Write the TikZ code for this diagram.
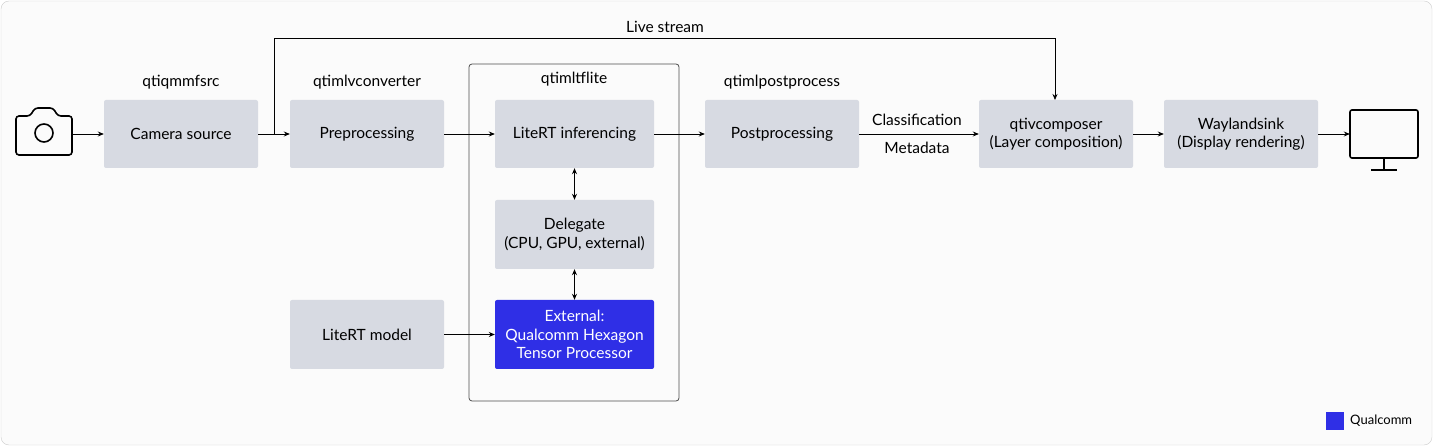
\documentclass[tikz,border=0pt]{standalone}
\usepackage{fontspec}
\setmainfont{Lato}
\usetikzlibrary{arrows.meta}
\definecolor{boxg}{HTML}{D7DAE2}
\definecolor{qblue}{HTML}{2F2FE6}
\begin{document}
\begin{tikzpicture}[x=1pt,y=-1pt,
  box/.style={fill=boxg,rounded corners=2pt,draw=none,align=center,font=\fontsize{15.5}{18.5}\selectfont,inner sep=0pt},
  lab/.style={font=\fontsize{15.5}{18.5}\selectfont,inner sep=0pt},
  arr/.style={-{Stealth[length=6pt,width=5pt]},line width=0.8pt}]
\useasboundingbox (0,0) rectangle (1433,446);
\draw[draw=gray!40,fill=gray!3,rounded corners=8pt] (1,1) rectangle (1432,445);
\draw[black!70,rounded corners=3pt,line width=0.8pt] (469,64) rectangle (679,401);
\node[lab] (tfl) at (574,79) {qtimltflite};
\node[box,minimum width=154pt,minimum height=68pt] (cam) at (181,134) {Camera source};
\node[box,minimum width=154pt,minimum height=68pt] (pre) at (367,134) {Preprocessing};
\node[box,minimum width=159pt,minimum height=68pt] (inf) at (574.5,134) {LiteRT inferencing};
\node[box,minimum width=159pt,minimum height=69pt] (del) at (574.5,234.5) {Delegate\\(CPU, GPU, external)};
\node[box,fill=qblue,text=white,minimum width=159pt,minimum height=69pt] (ext) at (574.5,334.5) {External:\\Qualcomm Hexagon\\Tensor Processor};
\node[box,minimum width=154pt,minimum height=69pt] (mod) at (367,334.5) {LiteRT model};
\node[box,minimum width=154pt,minimum height=68pt] (post) at (782,134) {Postprocessing};
\node[box,minimum width=154pt,minimum height=68pt] (comp) at (1056,134) {qtivcomposer\\(Layer composition)};
\node[box,minimum width=154pt,minimum height=68pt] (way) at (1241,134) {Waylandsink\\(Display rendering)};
\node[lab] at (181,82) {qtiqmmfsrc};
\node[lab] at (367,82) {qtimlvconverter};
\node[lab] at (782,82) {qtimlpostprocess};
\node[lab] at (665,27) {Live stream};
\node[lab] at (917,120) {Classification};
\node[lab] at (917,148) {Metadata};
% camera icon
\node[minimum width=58pt,minimum height=48pt,inner sep=0pt] (camicon) at (44,134) {};
\draw[line width=1.6pt,rounded corners=3pt] (16,116)--(30,116)--(35,108)--(53,108)--(58,116)--(72,116)--(72,155)--(16,155)--cycle;
\draw[line width=1.6pt] (44,133) circle (9);
% monitor
\node[minimum width=68pt,minimum height=60pt,inner sep=0pt] (mon) at (1384,134) {};
\draw[line width=1.6pt,rounded corners=2pt] (1350,110) rectangle (1418,158);
\draw[line width=1.6pt] (1384,158)--(1384,170) (1371,170)--(1397,170);
% arrows
\draw[arr] (camicon.east)--(cam.west);
\draw[arr] (cam.east)--(pre.west);
\draw[arr] (pre.east)--(inf.west);
\draw[arr] (inf.east)--(post.west);
\draw[arr] (post.east)--(comp.west);
\draw[arr] (comp.east)--(way.west);
\draw[arr] (way.east)--(mon.west);
\draw[arr] (mod.east)--(ext.west);
\draw[arr,{Stealth[length=6pt,width=5pt]}-{Stealth[length=6pt,width=5pt]}] (inf.south)--(del.north);
\draw[arr,{Stealth[length=6pt,width=5pt]}-{Stealth[length=6pt,width=5pt]}] (del.south)--(ext.north);
\coordinate (ls) at (274,134);
\draw[arr] (ls)--(274,38)--(1055,38)--(1055,100);
% legend
\fill[qblue] (1326,412) rectangle (1344,430);
\node[lab,anchor=west,font=\fontsize{13}{16}\selectfont] at (1350,421) {Qualcomm};
\end{tikzpicture}
\end{document}
